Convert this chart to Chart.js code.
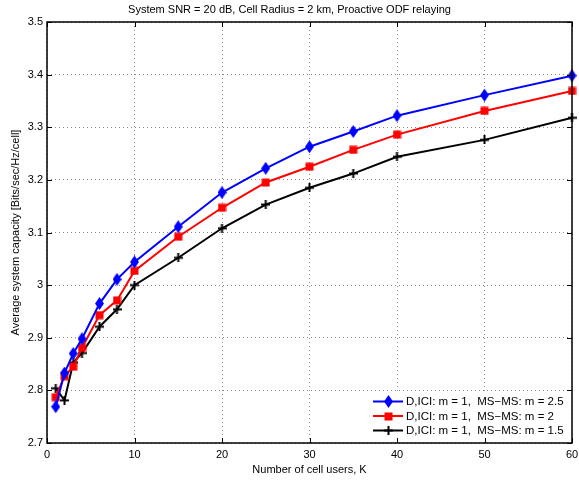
<!DOCTYPE html>
<html>
<head>
<meta charset="utf-8">
<script src="https://cdn.jsdelivr.net/npm/chart.js@4/dist/chart.umd.min.js"></script>
<style>
  html, body { margin: 0; padding: 0; background: #fff; }
</style>
</head>
<body>
<canvas id="chCapacity" width="579" height="480"></canvas>
<script>
/* system capacity vs number of users */

var users = [1, 2, 3, 4, 6, 8, 10, 15, 20, 25, 30, 35, 40, 50, 60];
var capM25 = [2.769, 2.833, 2.870, 2.898, 2.965, 3.011, 3.044, 3.111, 3.176, 3.222, 3.263, 3.292, 3.322, 3.361, 3.398];
var capM20 = [2.787, 2.827, 2.845, 2.881, 2.943, 2.971, 3.027, 3.092, 3.147, 3.195, 3.225, 3.257, 3.286, 3.331, 3.369];
var capM15 = [2.804, 2.781, 2.853, 2.871, 2.921, 2.954, 3.000, 3.052, 3.108, 3.153, 3.185, 3.212, 3.244, 3.276, 3.318];
var seriesLabels = [
  'D,ICI: m = 1,  MS\u2212MS: m = 2.5',
  'D,ICI: m = 1,  MS\u2212MS: m = 2',
  'D,ICI: m = 1,  MS\u2212MS: m = 1.5'
];
var chartTitle = 'System SNR = 20 dB, Cell Radius = 2 km, Proactive ODF relaying';

var fontFam = "'Liberation Sans', Arial, Helvetica, sans-serif";
var axFont = { family: fontFam, size: 11 };

// matlab style markers, drawn once on small canvases
function makeMarker(kind, color) {
  var c = document.createElement('canvas');
  var w = 9, h = kind == 'diamond' ? 13 : 9;
  c.width = w; c.height = h;
  var g = c.getContext('2d');
  g.fillStyle = color;
  g.strokeStyle = color;
  if (kind == 'diamond') {
    g.beginPath();
    g.moveTo(w / 2, 0);
    g.lineTo(w, h / 2);
    g.lineTo(w / 2, h);
    g.lineTo(0, h / 2);
    g.closePath();
    g.fill();
  } else if (kind == 'square') {
    g.fillRect(0.5, 0.5, w - 1, h - 1);
  } else {
    g.lineWidth = 2;
    g.beginPath();
    g.moveTo(w / 2, 0); g.lineTo(w / 2, h);
    g.moveTo(0, h / 2); g.lineTo(w, h / 2);
    g.stroke();
  }
  return c;
}

var mkDiamond = makeMarker('diamond', '#0000ff');
var mkSquare = makeMarker('square', '#ff0000');
var mkPlus = makeMarker('plus', '#000000');

function toPoints(vals) {
  return users.map(function (u, i) { return { x: u, y: vals[i] }; });
}

function series(label, vals, color, marker) {
  return {
    label: label,
    data: toPoints(vals),
    borderColor: color,
    backgroundColor: color,
    borderWidth: 2,
    pointStyle: marker,
    pointRadius: 5,
    pointHoverRadius: 5,
    tension: 0,
    clip: false
  };
}

// title, legend, box and inward ticks
var matlabFrame = {
  id: 'matlabFrame',
  afterDraw: function (chart) {
    var ctx = chart.ctx;
    var a = chart.chartArea;
    var xs = chart.scales.x, ys = chart.scales.y;
    ctx.save();

    // title
    ctx.fillStyle = '#000';
    ctx.font = '11px ' + fontFam;
    ctx.textAlign = 'center';
    ctx.textBaseline = 'middle';
    ctx.fillText(chartTitle, chart.width / 2, 10);

    // legend in lower right corner
    var lw = 201, lh = 47;
    var lx = a.right - lw - 1, ly = a.bottom - lh - 4;
    ctx.fillStyle = '#fff';
    ctx.fillRect(lx, ly, lw, lh);
    var ds = chart.data.datasets;
    ctx.textAlign = 'left';
    ctx.font = '11.5px ' + fontFam;
    for (var i = 0; i < ds.length; i++) {
      var ry = ly + 9.5 + i * 14.5;
      ctx.strokeStyle = ds[i].borderColor;
      ctx.lineWidth = 2;
      ctx.beginPath();
      ctx.moveTo(lx + 3, ry);
      ctx.lineTo(lx + 33, ry);
      ctx.stroke();
      var m = ds[i].pointStyle;
      ctx.drawImage(m, Math.round(lx + 18 - m.width / 2), Math.round(ry - m.height / 2));
      ctx.fillStyle = '#000';
      ctx.fillText(ds[i].label, lx + 36, ry + 0.5);
    }

    // axes box
    ctx.strokeStyle = '#000';
    ctx.lineWidth = 1.5;
    ctx.strokeRect(a.left, a.top, a.right - a.left, a.bottom - a.top);

    // inward ticks on all four sides
    ctx.lineWidth = 1;
    ctx.beginPath();
    xs.ticks.forEach(function (t) {
      var px = Math.round(xs.getPixelForValue(t.value)) + 0.5;
      ctx.moveTo(px, a.bottom); ctx.lineTo(px, a.bottom - 5);
      ctx.moveTo(px, a.top); ctx.lineTo(px, a.top + 5);
    });
    ys.ticks.forEach(function (t) {
      var py = Math.round(ys.getPixelForValue(t.value)) + 0.5;
      ctx.moveTo(a.left, py); ctx.lineTo(a.left + 5, py);
      ctx.moveTo(a.right, py); ctx.lineTo(a.right - 5, py);
    });
    ctx.stroke();
    ctx.restore();
  }
};

var gridOpts = { color: 'rgba(0,0,0,0.45)', lineWidth: 1, drawTicks: false };

var chCapacity = document.getElementById('chCapacity');
new Chart(chCapacity, {
  type: 'line',
  data: {
    datasets: [
      series(seriesLabels[0], capM25, '#0000ff', mkDiamond),
      series(seriesLabels[1], capM20, '#ff0000', mkSquare),
      series(seriesLabels[2], capM15, '#000000', mkPlus)
    ]
  },
  options: {
    responsive: false,
    animation: false,
    devicePixelRatio: 1,
    layout: { padding: { top: 22, right: 4, left: 0, bottom: 0 } },
    plugins: {
      legend: { display: false },
      tooltip: { enabled: false }
    },
    scales: {
      x: {
        type: 'linear',
        min: 0,
        max: 60,
        ticks: { stepSize: 10, color: '#000', font: axFont, padding: 5, maxRotation: 0 },
        grid: gridOpts,
        border: { display: false, dash: [1, 3] },
        title: {
          display: true,
          text: 'Number of cell users, K',
          color: '#000',
          font: axFont,
          padding: { top: 0, bottom: 3 }
        },
        afterFit: function (s) {
          s.height = 37;
          s.paddingLeft = 0;
          s.paddingRight = 0;
        }
      },
      y: {
        min: 2.7,
        max: 3.5,
        ticks: {
          stepSize: 0.1,
          color: '#000',
          font: axFont,
          padding: 4,
          callback: function (v) { return String(+v.toFixed(1)); }
        },
        grid: gridOpts,
        border: { display: false, dash: [1, 3] },
        title: {
          display: true,
          text: 'Average system capacity [Bits/sec/Hz/cell]',
          color: '#000',
          font: axFont,
          padding: { top: 9, bottom: 0 }
        },
        afterFit: function (s) {
          s.width = 47;
          s.paddingTop = 0;
          s.paddingBottom = 0;
        }
      }
    }
  },
  plugins: [matlabFrame]
});
</script>
</body>
</html>
